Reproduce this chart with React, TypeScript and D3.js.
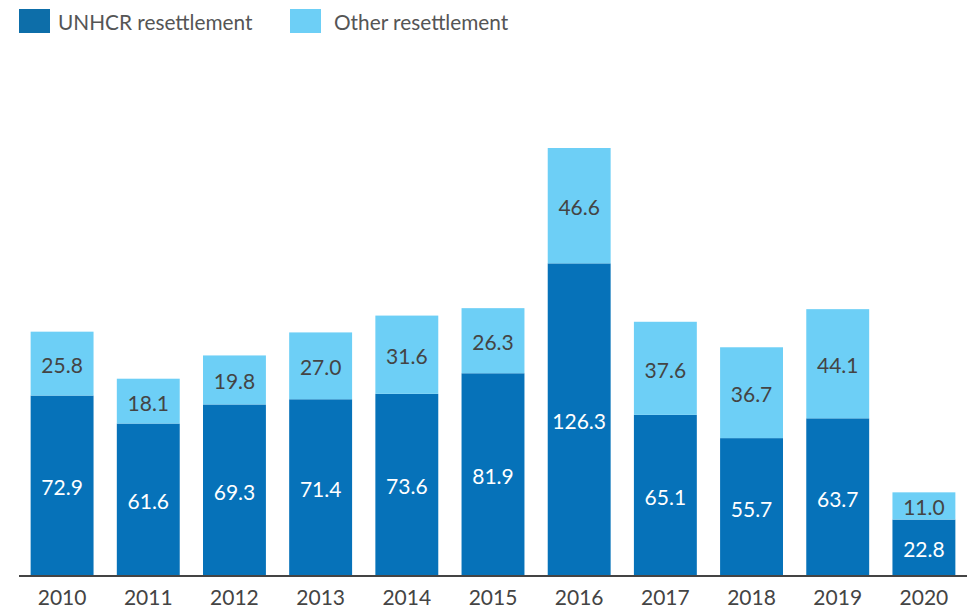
import React from "react";
import * as d3 from "d3";

const years = ["2010", "2011", "2012", "2013", "2014", "2015", "2016", "2017", "2018", "2019", "2020"];
const unhcr = [72.9, 61.6, 69.3, 71.4, 73.6, 81.9, 126.3, 65.1, 55.7, 63.7, 22.8];
const other = [25.8, 18.1, 19.8, 27.0, 31.6, 26.3, 46.6, 37.6, 36.7, 44.1, 11.0];
const seriesNames = ["UNHCR resettlement", "Other resettlement"];
const seriesColors = ["#0672b9", "#6dcff6"];

const width = 977;
const height = 609;
const baseline = 576;
const font = "Lato, 'Open Sans', sans-serif";

const App: React.FC = () => {
  const x = d3
    .scaleBand<string>()
    .domain(years)
    .range([19, 967])
    .paddingInner(0.27)
    .paddingOuter(0.135);

  const y = d3.scaleLinear().domain([0, 172.9]).range([baseline, 148]);

  const rows = years.map((yr, i) => ({ year: yr, unhcr: unhcr[i], other: other[i] }));
  const stack = d3.stack<any>().keys(["unhcr", "other"]);
  const layers = stack(rows);

  return (
    <svg
      width={width}
      height={height}
      style={{ position: "absolute", left: 0, top: 0, fontFamily: font }}
    >
      <rect width={width} height={height} fill="#fff" />

      {/* legend */}
      {seriesNames.map((name, i) => {
        const lx = i === 0 ? 19 : 290;
        return (
          <g key={name}>
            <rect x={lx} y={9} width={31} height={24} fill={i === 0 ? "#0d6ea9" : seriesColors[1]} />
            <text x={lx + (i === 0 ? 39 : 44)} y={30} fontSize={20.8} fill="#555">
              {name}
            </text>
          </g>
        );
      })}

      {/* bars */}
      {layers.map((layer, li) =>
        layer.map((d, i) => {
          const x0 = x(years[i]) as number;
          const top = y(d[1]);
          const bottom = y(d[0]);
          const val = li === 0 ? unhcr[i] : other[i];
          return (
            <g key={`${li}-${i}`}>
              <rect
                x={x0}
                y={top}
                width={x.bandwidth()}
                height={bottom - top}
                fill={seriesColors[li]}
              />
              <text
                x={x0 + x.bandwidth() / 2}
                y={(top + bottom) / 2 + 1}
                textAnchor="middle"
                dominantBaseline="central"
                fontSize={21}
                fill={li === 0 ? "#fff" : "#444"}
              >
                {val.toFixed(1)}
              </text>
            </g>
          );
        })
      )}

      {/* baseline */}
      <line x1={19} x2={967} y1={baseline} y2={baseline} stroke="#444" strokeWidth={2} />

      {/* x labels */}
      {years.map((yr) => (
        <text
          key={yr}
          x={(x(yr) as number) + x.bandwidth() / 2}
          y={605}
          textAnchor="middle"
          fontSize={21}
          fill="#444"
        >
          {yr}
        </text>
      ))}
    </svg>
  );
};

export default App;
